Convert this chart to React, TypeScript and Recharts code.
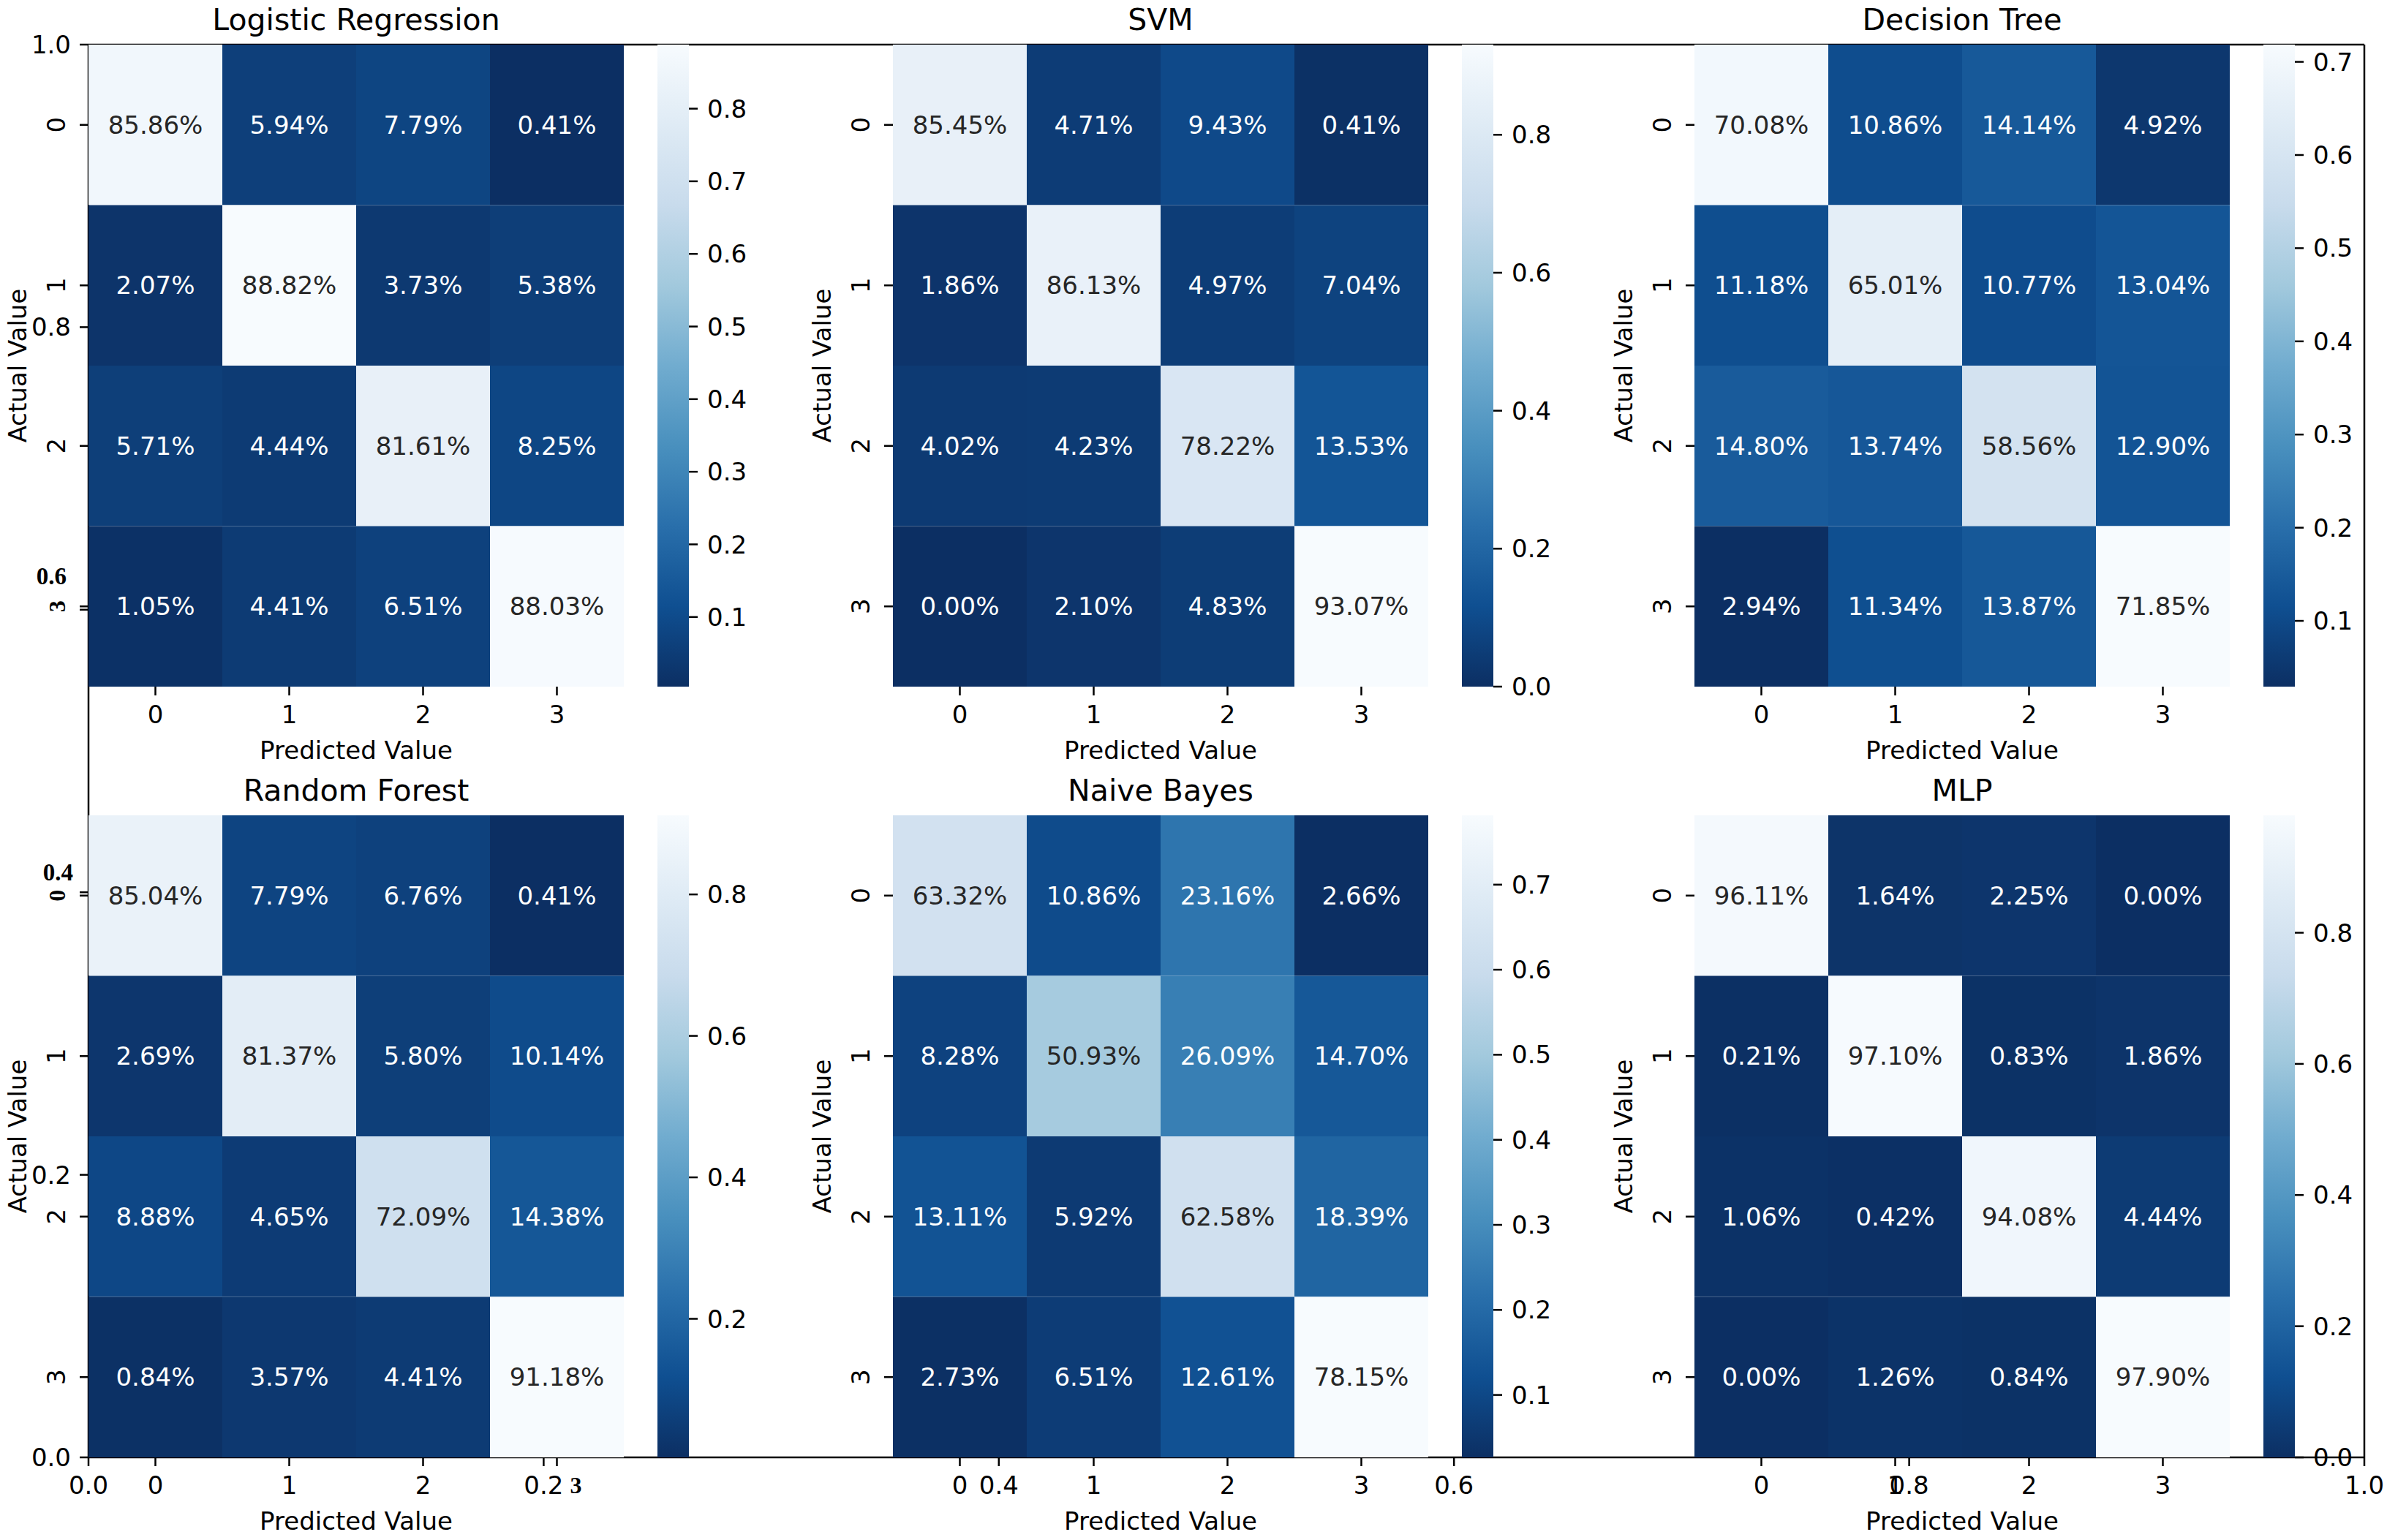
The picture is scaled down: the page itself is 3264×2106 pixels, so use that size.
import React from "react";
import { ScatterChart, Scatter, XAxis, YAxis, BarChart, Bar } from "recharts";

const FONT = "'DejaVu Sans', sans-serif";
const SERIF = "'Liberation Serif', serif";

// confusion matrices, rows = actual, cols = predicted (percent)
const classLabels = ["0", "1", "2", "3"];

const logisticRegression = [
	[85.86, 5.94, 7.79, 0.41],
	[2.07, 88.82, 3.73, 5.38],
	[5.71, 4.44, 81.61, 8.25],
	[1.05, 4.41, 6.51, 88.03],
];
const svm = [
	[85.45, 4.71, 9.43, 0.41],
	[1.86, 86.13, 4.97, 7.04],
	[4.02, 4.23, 78.22, 13.53],
	[0.0, 2.1, 4.83, 93.07],
];
const decisionTree = [
	[70.08, 10.86, 14.14, 4.92],
	[11.18, 65.01, 10.77, 13.04],
	[14.8, 13.74, 58.56, 12.9],
	[2.94, 11.34, 13.87, 71.85],
];
const randomForest = [
	[85.04, 7.79, 6.76, 0.41],
	[2.69, 81.37, 5.8, 10.14],
	[8.88, 4.65, 72.09, 14.38],
	[0.84, 3.57, 4.41, 91.18],
];
const naiveBayes = [
	[63.32, 10.86, 23.16, 2.66],
	[8.28, 50.93, 26.09, 14.7],
	[13.11, 5.92, 62.58, 18.39],
	[2.73, 6.51, 12.61, 78.15],
];
const mlp = [
	[96.11, 1.64, 2.25, 0.0],
	[0.21, 97.1, 0.83, 1.86],
	[1.06, 0.42, 94.08, 4.44],
	[0.0, 1.26, 0.84, 97.9],
];

// colorbar tick labels per panel
const lrTicks = [0.1, 0.2, 0.3, 0.4, 0.5, 0.6, 0.7, 0.8];
const svmTicks = [0.0, 0.2, 0.4, 0.6, 0.8];
const dtTicks = [0.1, 0.2, 0.3, 0.4, 0.5, 0.6, 0.7];
const rfTicks = [0.2, 0.4, 0.6, 0.8];
const nbTicks = [0.1, 0.2, 0.3, 0.4, 0.5, 0.6, 0.7];
const mlpTicks = [0.0, 0.2, 0.4, 0.6, 0.8];

// the stray full-figure axes behind the grid
const overlayTicks = [0, 0.2, 0.4, 0.6, 0.8, 1.0];

const panels = [
	{ title: "Logistic Regression", matrix: logisticRegression, ticks: lrTicks },
	{ title: "SVM", matrix: svm, ticks: svmTicks },
	{ title: "Decision Tree", matrix: decisionTree, ticks: dtTicks },
	{ title: "Random Forest", matrix: randomForest, ticks: rfTicks },
	{ title: "Naive Bayes", matrix: naiveBayes, ticks: nbTicks },
	{ title: "MLP", matrix: mlp, ticks: mlpTicks },
];

// labels that were retouched by hand in bold serif: panel -> tick index
const boldYTicks: Record<number, number> = { 0: 3, 3: 0 };
const boldXTicks: Record<number, number> = { 3: 3 };

// matplotlib "Blues"
const BLUES = [
	[247, 251, 255],
	[222, 235, 247],
	[198, 219, 239],
	[158, 202, 225],
	[107, 174, 214],
	[66, 146, 198],
	[33, 113, 181],
	[8, 81, 156],
	[8, 48, 107],
];

// the screenshot is slightly washed out in the dark blues
function soften(c: number[]) {
	const l = 0.299 * c[0] + 0.587 * c[1] + 0.114 * c[2];
	return c.map((v) => Math.round(v + 0.12 * (l - v)));
}

function blues(t: number) {
	const s = Math.max(0, Math.min(1, t)) * (BLUES.length - 1);
	const i = Math.min(BLUES.length - 2, Math.floor(s));
	const f = s - i;
	return soften(BLUES[i].map((c, k) => c + (BLUES[i + 1][k] - c) * f));
}
const rgb = (c: number[]) => `rgb(${c[0]},${c[1]},${c[2]})`;

function luminance(c: number[]) {
	const lin = c.map((v) => {
		const x = v / 255;
		return x <= 0.03928 ? x / 12.92 : Math.pow((x + 0.055) / 1.055, 2.4);
	});
	return 0.2126 * lin[0] + 0.7152 * lin[1] + 0.0722 * lin[2];
}

// layout
const COL_LEFT = [121, 1221, 2317];
const ROW_TOP = [61, 1115];
const HM_W = 732;
const HM_H = 878;
const CB_OFF = 778;
const CB_W = 43;
const TICK = 12;
const LW = 2.5;
const CB_PAD = 24;

function makeYTick(idx: number) {
	return (props: any) => {
		const { x, y, payload } = props;
		const k = Math.round(payload.value - 0.5);
		const bold = boldYTicks[idx] === k;
		const bx = x - 20;
		return (
			<text
				x={bx}
				y={y}
				transform={`rotate(-90 ${bx} ${y})`}
				textAnchor="middle"
				fontSize={bold ? 32 : 34}
				fontWeight={bold ? "bold" : "normal"}
				fontFamily={bold ? SERIF : FONT}
				fill="#000"
			>
				{classLabels[k]}
			</text>
		);
	};
}

function makeXTick(idx: number) {
	return (props: any) => {
		const { x, y, payload } = props;
		const k = Math.round(payload.value - 0.5);
		const bold = boldXTicks[idx] === k;
		return (
			<text
				x={bold ? x + 26 : x}
				y={y}
				dy="0.71em"
				textAnchor="middle"
				fontSize={bold ? 32 : 34}
				fontWeight={bold ? "bold" : "normal"}
				fontFamily={bold ? SERIF : FONT}
				fill="#000"
			>
				{classLabels[k]}
			</text>
		);
	};
}

function Heatmap({ idx }: { idx: number }) {
	const { matrix } = panels[idx];
	const left = COL_LEFT[idx % 3];
	const top = ROW_TOP[Math.floor(idx / 3)];
	const flat = matrix.flat();
	const vmin = Math.min(...flat);
	const vmax = Math.max(...flat);
	const points = matrix.flatMap((row, r) =>
		row.map((v, c) => ({ x: c + 0.5, y: r + 0.5, v })),
	);
	const cw = HM_W / 4;
	const ch = HM_H / 4;

	const cell = (p: any) => {
		const col = blues(1 - (p.payload.v - vmin) / (vmax - vmin));
		const txt = luminance(col) > 0.408 ? "#262626" : "#ffffff";
		return (
			<g>
				<rect x={p.cx - cw / 2} y={p.cy - ch / 2} width={cw} height={ch} fill={rgb(col)} />
				<text
					x={p.cx}
					y={p.cy}
					textAnchor="middle"
					dominantBaseline="central"
					fontSize={34}
					fontFamily={FONT}
					fill={txt}
				>
					{p.payload.v.toFixed(2)}%
				</text>
			</g>
		);
	};

	const XTick = makeXTick(idx);
	const YTick = makeYTick(idx);

	return (
		<div style={{ position: "absolute", left: left - 121, top }}>
			<ScatterChart
				width={121 + HM_W}
				height={HM_H + 80}
				margin={{ top: 0, right: 0, bottom: 0, left: 0 }}
			>
				<XAxis
					type="number"
					dataKey="x"
					domain={[0, 4]}
					ticks={[0.5, 1.5, 2.5, 3.5]}
					height={80}
					axisLine={false}
					tickSize={TICK}
					tickMargin={14}
					tickLine={{ stroke: "#000", strokeWidth: LW }}
					tick={<XTick />}
				/>
				<YAxis
					type="number"
					dataKey="y"
					domain={[0, 4]}
					reversed
					ticks={[0.5, 1.5, 2.5, 3.5]}
					width={121}
					axisLine={false}
					tickSize={TICK}
					tickMargin={0}
					tickLine={{ stroke: "#000", strokeWidth: LW }}
					tick={<YTick />}
				/>
				<Scatter data={points} shape={cell} isAnimationActive={false} />
			</ScatterChart>
		</div>
	);
}

function Colorbar({ idx }: { idx: number }) {
	const { matrix, ticks } = panels[idx];
	const left = COL_LEFT[idx % 3] + CB_OFF;
	const top = ROW_TOP[Math.floor(idx / 3)];
	const flat = matrix.flat();
	const vmin = Math.min(...flat) / 100;
	const vmax = Math.max(...flat) / 100;
	return (
		<div style={{ position: "absolute", left, top: top - CB_PAD }}>
			<BarChart
				width={CB_W + 110}
				height={HM_H + 2 * CB_PAD}
				data={[{ k: "cb", r: [vmin, vmax] }]}
				margin={{ top: CB_PAD, right: 0, bottom: CB_PAD, left: 0 }}
				barCategoryGap={0}
			>
				<XAxis dataKey="k" hide />
				<YAxis
					orientation="right"
					type="number"
					domain={[vmin, vmax]}
					allowDataOverflow
					ticks={ticks}
					interval={0}
					width={110}
					axisLine={false}
					tickSize={TICK}
					tickMargin={13}
					tickLine={{ stroke: "#000", strokeWidth: LW }}
					tick={{ fill: "#000", fontSize: 34, fontFamily: FONT }}
					tickFormatter={(v) => v.toFixed(1)}
				/>
				<Bar dataKey="r" fill="url(#bluesR)" isAnimationActive={false} />
			</BarChart>
		</div>
	);
}

function OverlayYTick(props: any) {
	const { x, y, payload } = props;
	const v = payload.value;
	// two of the labels were pasted in by hand in bold serif
	const is06 = Math.abs(v - 0.6) < 1e-6;
	const is04 = Math.abs(v - 0.4) < 1e-6;
	if (is06 || is04) {
		return (
			<text
				x={x + (is06 ? -6 : 3)}
				y={y + (is06 ? -46 : -27)}
				textAnchor="end"
				dominantBaseline="central"
				fontSize={33}
				fontWeight="bold"
				fontFamily={SERIF}
				fill="#000"
			>
				{v.toFixed(1)}
			</text>
		);
	}
	return (
		<text x={x} y={y} textAnchor="end" dominantBaseline="central" fontSize={34} fontFamily={FONT} fill="#000">
			{v.toFixed(1)}
		</text>
	);
}

// empty axes: the tick values only set the extent, nothing is drawn for them
const overlayExtent = overlayTicks.map((v) => ({ x: v, y: v }));

function Overlay() {
	return (
		<div style={{ position: "absolute", left: 0, top: 0 }}>
			<ScatterChart width={3264} height={2106} margin={{ top: 60, right: 30, bottom: 0, left: 0 }}>
				<XAxis
					xAxisId="b"
					type="number"
					dataKey="x"
					domain={[0, 1]}
					ticks={overlayTicks}
					interval={0}
					height={113}
					axisLine={{ stroke: "#000", strokeWidth: LW }}
					tickSize={TICK}
					tickMargin={14}
					tickLine={{ stroke: "#000", strokeWidth: LW }}
					tick={{ fill: "#000", fontSize: 34, fontFamily: FONT }}
					tickFormatter={(v) => v.toFixed(1)}
				/>
				<XAxis
					xAxisId="t"
					orientation="top"
					type="number"
					dataKey="x"
					domain={[0, 1]}
					height={1}
					tick={false}
					tickLine={false}
					axisLine={{ stroke: "#000", strokeWidth: LW }}
				/>
				<YAxis
					yAxisId="l"
					type="number"
					dataKey="y"
					domain={[0, 1]}
					ticks={overlayTicks}
					interval={0}
					width={121}
					axisLine={{ stroke: "#000", strokeWidth: LW }}
					tickSize={TICK}
					tickMargin={12}
					tickLine={{ stroke: "#000", strokeWidth: LW }}
					tick={<OverlayYTick />}
				/>
				<YAxis
					yAxisId="r"
					orientation="right"
					type="number"
					dataKey="y"
					domain={[0, 1]}
					width={1}
					tick={false}
					tickLine={false}
					axisLine={{ stroke: "#000", strokeWidth: LW }}
				/>
				<Scatter xAxisId="b" yAxisId="l" data={overlayExtent} shape={() => <g />} isAnimationActive={false} />
				<Scatter xAxisId="t" yAxisId="r" data={overlayExtent} shape={() => <g />} isAnimationActive={false} />
			</ScatterChart>
		</div>
	);
}

const textBase: React.CSSProperties = {
	position: "absolute",
	fontFamily: FONT,
	color: "#000",
	lineHeight: 1,
	whiteSpace: "nowrap",
};

export default function App() {
	return (
		<div
			style={{
				position: "absolute",
				left: 0,
				top: 0,
				width: 3264,
				height: 2106,
				background: "#fff",
				overflow: "hidden",
			}}
		>
			<svg width={0} height={0} style={{ position: "absolute" }}>
				<defs>
					<linearGradient id="bluesR" x1="0" y1="0" x2="0" y2="1">
						{BLUES.map((c, i) => (
							<stop key={i} offset={i / (BLUES.length - 1)} stopColor={rgb(soften(c))} />
						))}
					</linearGradient>
				</defs>
			</svg>
			<Overlay />
			{panels.map((p, i) => (
				<React.Fragment key={p.title}>
					<Heatmap idx={i} />
					<Colorbar idx={i} />
				</React.Fragment>
			))}
			{panels.map((p, i) => {
				const left = COL_LEFT[i % 3];
				const top = ROW_TOP[Math.floor(i / 3)];
				const cx = left + HM_W / 2;
				return (
					<React.Fragment key={`t-${p.title}`}>
						<div style={{ ...textBase, fontSize: 41, left: cx, top: top - 34, transform: "translate(-50%, -50%)" }}>
							{p.title}
						</div>
						<div style={{ ...textBase, fontSize: 34, left: cx, top: top + 965, transform: "translate(-50%, -50%)" }}>
							Predicted Value
						</div>
						<div
							style={{
								...textBase,
								fontSize: 34,
								left: left - 97,
								top: top + HM_H / 2,
								transform: "translate(-50%, -50%) rotate(-90deg)",
							}}
						>
							Actual Value
						</div>
					</React.Fragment>
				);
			})}
		</div>
	);
}
